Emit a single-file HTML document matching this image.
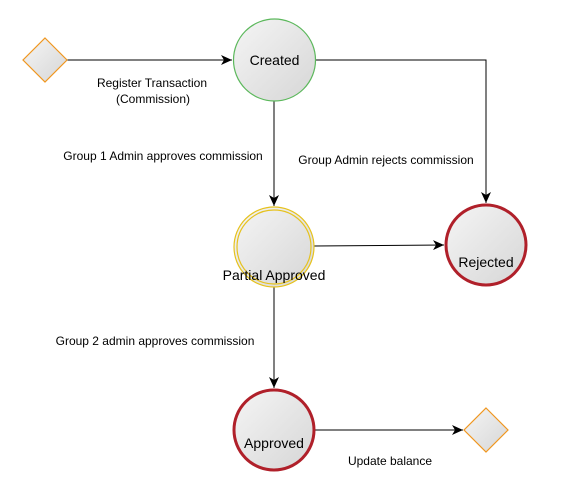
<!DOCTYPE html>
<html><head><style>
html,body{margin:0;padding:0;background:#fff;width:566px;height:484px;overflow:hidden}
svg text{font-family:"Liberation Sans",Arial,sans-serif;fill:#000}
</style></head><body>
<svg width="566" height="484" viewBox="0 0 566 484" xmlns="http://www.w3.org/2000/svg">
<defs>
<linearGradient id="g" x1="0" y1="0" x2="1" y2="1">
<stop offset="0" stop-color="#f5f5f5"/><stop offset="1" stop-color="#d6d6d6"/>
</linearGradient>
<marker id="a" markerWidth="12" markerHeight="10" refX="11" refY="5" orient="auto" markerUnits="userSpaceOnUse">
<path d="M0,0 L11,5 L0,10 L3,5 Z" fill="#000"/>
</marker>
</defs>
<g fill="none" stroke="#000" stroke-width="1">
<line x1="67" y1="60" x2="232" y2="60" marker-end="url(#a)"/>
<path d="M315,60 H486 V203" marker-end="url(#a)"/>
<line x1="274" y1="101" x2="274" y2="206" marker-end="url(#a)"/>
<line x1="314" y1="246" x2="444" y2="245" marker-end="url(#a)"/>
<line x1="274" y1="287" x2="274" y2="388" marker-end="url(#a)"/>
<line x1="315" y1="430" x2="463" y2="430" marker-end="url(#a)"/>
</g>
<g>
<polygon points="45,38 67,60 45,82 23,60" fill="url(#g)" stroke="#f0961e" stroke-width="1.2"/>
<polygon points="486,408 508,430 486,452 464,430" fill="url(#g)" stroke="#f0961e" stroke-width="1.2"/>
<circle cx="274.5" cy="60" r="41" fill="url(#g)" stroke="#5cb85c" stroke-width="1.2"/>
<circle cx="274" cy="247" r="40" fill="url(#g)" stroke="#e6c21e" stroke-width="1.2"/>
<circle cx="274" cy="247" r="37" fill="none" stroke="#e6c21e" stroke-width="1.2"/>
<circle cx="486" cy="245" r="40" fill="url(#g)" stroke="#b0202a" stroke-width="3"/>
<circle cx="274" cy="430" r="40" fill="url(#g)" stroke="#b0202a" stroke-width="3"/>
</g>
<g font-size="14" text-anchor="middle">
<text x="274.5" y="65">Created</text>
<text x="274" y="280">Partial Approved</text>
<text x="486" y="267">Rejected</text>
<text x="274" y="448">Approved</text>
</g>
<g font-size="12" text-anchor="middle">
<text x="152" y="87">Register Transaction</text>
<text x="153" y="103">(Commission)</text>
<text x="163" y="160">Group 1 Admin approves commission</text>
<text x="386" y="164">Group Admin rejects commission</text>
<text x="155" y="345">Group 2 admin approves commission</text>
<text x="390" y="465">Update balance</text>
</g>
</svg>
</body></html>
